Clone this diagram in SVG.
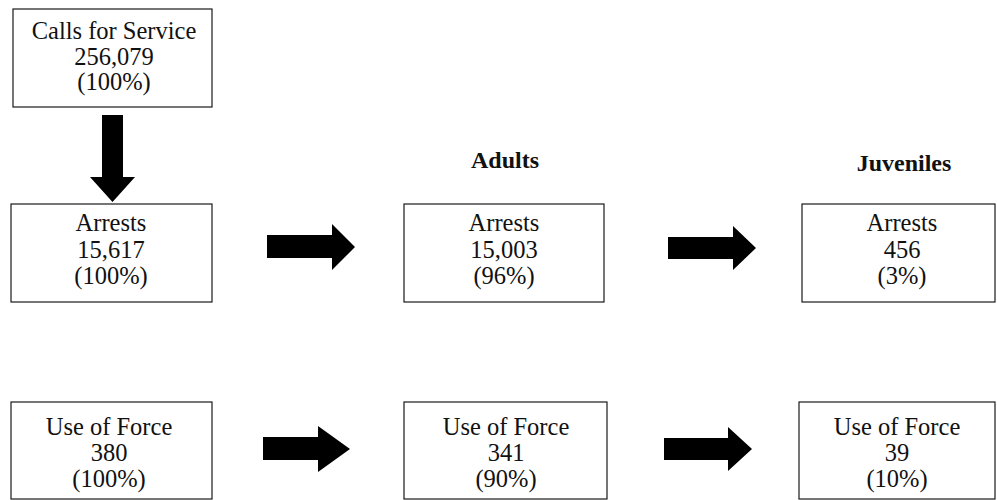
<svg xmlns="http://www.w3.org/2000/svg" width="997" height="500" viewBox="0 0 997 500">
  <style>
    .box { fill: #ffffff; stroke: #1a1a1a; stroke-width: 1.2; }
    .lbl { font-family: "Liberation Serif", "Times New Roman", serif; font-size: 24.5px; fill: #111111; text-anchor: middle; }
    .hdr { font-family: "Liberation Serif", "Times New Roman", serif; font-size: 24px; font-weight: bold; fill: #111111; text-anchor: middle; }
    .arrow { fill: #000000; stroke: none; }
  </style>
  <rect x="0" y="0" width="997" height="500" fill="#ffffff"/>

  <!-- column headings -->
  <text class="hdr" x="505" y="168">Adults</text>
  <text class="hdr" x="904" y="171">Juveniles</text>

  <!-- block arrows -->
  <g id="connectors">
    <polygon class="arrow" points="102,115 123,115 123,177 135,177 112.5,202 90,177 102,177"/>
    <polygon class="arrow" points="267,235 332,235 332,224 355,247 332,270 332,258 267,258"/>
    <polygon class="arrow" points="668,237 733,237 733,226 756,248 733,270 733,259 668,259"/>
    <polygon class="arrow" points="263,437 318,437 318,426 350,449 318,472 318,460 263,460"/>
    <polygon class="arrow" points="664,438 728,438 728,427 752,449 728,471 728,460 664,460"/>
  </g>

  <g id="calls">
    <rect class="box" x="13" y="9" width="199" height="98"/>
    <text class="lbl" x="114" y="39">Calls for Service</text>
    <text class="lbl" x="114" y="65">256,079</text>
    <text class="lbl" x="114" y="90">(100%)</text>
  </g>

  <g id="arrests-total">
    <rect class="box" x="11" y="204" width="201" height="98"/>
    <text class="lbl" x="111" y="231">Arrests</text>
    <text class="lbl" x="111" y="258">15,617</text>
    <text class="lbl" x="111" y="284">(100%)</text>
  </g>

  <g id="arrests-adults">
    <rect class="box" x="404" y="204" width="200" height="98"/>
    <text class="lbl" x="504" y="231">Arrests</text>
    <text class="lbl" x="504" y="258">15,003</text>
    <text class="lbl" x="504" y="284">(96%)</text>
  </g>

  <g id="arrests-juveniles">
    <rect class="box" x="802" y="204" width="193" height="98"/>
    <text class="lbl" x="902" y="231">Arrests</text>
    <text class="lbl" x="902" y="258">456</text>
    <text class="lbl" x="902" y="284">(3%)</text>
  </g>

  <g id="force-total">
    <rect class="box" x="11" y="402" width="201" height="97"/>
    <text class="lbl" x="109" y="435">Use of Force</text>
    <text class="lbl" x="109" y="461">380</text>
    <text class="lbl" x="109" y="487">(100%)</text>
  </g>

  <g id="force-adults">
    <rect class="box" x="404" y="402" width="203" height="97"/>
    <text class="lbl" x="506" y="435">Use of Force</text>
    <text class="lbl" x="506" y="461">341</text>
    <text class="lbl" x="506" y="487">(90%)</text>
  </g>

  <g id="force-juveniles">
    <rect class="box" x="799" y="402" width="196" height="97"/>
    <text class="lbl" x="897" y="435">Use of Force</text>
    <text class="lbl" x="897" y="461">39</text>
    <text class="lbl" x="897" y="487">(10%)</text>
  </g>
</svg>
